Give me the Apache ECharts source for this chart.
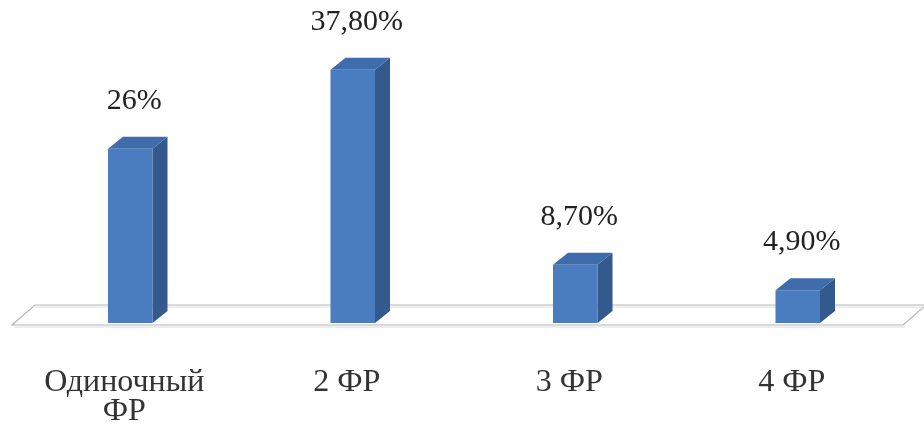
<!DOCTYPE html>
<html>
<head>
<meta charset="utf-8">
<script src="https://cdn.jsdelivr.net/npm/echarts@6/dist/echarts.min.js"></script>
<style>html,body{margin:0;padding:0;background:#fff}#c{width:924px;height:432px}</style>
</head>
<body>
<div id="c"></div>
<script>
const categories = ['Одиночный\nФР', '2 ФР', '3 ФР', '4 ФР'];
const values = [26, 37.8, 8.7, 4.9];
const valueLabels = ['26%', '37,80%', '8,70%', '4,90%'];

const chart = echarts.init(document.getElementById('c'));
const FRONT = '#4a7dc0', SIDE = '#34598c', TOP = '#3f6cab';
const DX = 15, DY = -12;

chart.setOption({
  animation: false,
  grid: { left: 19, right: 15, top: 55, bottom: 109 },
  xAxis: {
    type: 'category',
    data: categories,
    axisLine: { show: false },
    axisTick: { show: false },
    axisLabel: {
      fontFamily: 'Liberation Serif', fontSize: 32, color: '#333',
      lineHeight: 29, margin: 45, padding: [0, 12, 0, 0]
    }
  },
  yAxis: { type: 'value', min: 0, max: 40, show: false, splitLine: { show: false } },
  series: [
    {
      type: 'custom', z: 1, silent: true,
      data: [[0, 0]],
      renderItem: function (params, api) {
        const cs = params.coordSys;
        const fy = cs.y + cs.height + 2;
        const lx = cs.x - 7, rx = cs.x + cs.width - 6;
        const bdx = 23, bdy = -20;
        return {
          type: 'group',
          children: [
            { type: 'polygon', shape: { points: [[lx, fy], [rx, fy], [rx + bdx, fy + bdy], [lx + bdx, fy + bdy]] },
              style: { fill: '#fff', stroke: '#b5b5b5', lineWidth: 1.2 } },
            { type: 'polyline', shape: { points: [[lx + 2, fy + 2], [rx + 2, fy + 2]] },
              style: { fill: null, stroke: '#dcdcdc', lineWidth: 1 } },
            { type: 'polyline', shape: { points: [[lx + bdx, fy + bdy + 2], [rx + bdx + 10, fy + bdy + 2]] },
              style: { fill: null, stroke: '#dcdcdc', lineWidth: 1 } }
          ]
        };
      }
    },
    {
      type: 'custom', z: 2,
      data: values.map((v, i) => [i, v]),
      renderItem: function (params, api) {
        const i = api.value(0), v = api.value(1);
        const base = api.coord([i, 0]);
        const top = api.coord([i, v]);
        const w = api.size([1, 0])[0] * 0.2;
        const x0 = base[0] - w / 2, x1 = base[0] + w / 2;
        const yb = base[1], yt = top[1];
        return {
          type: 'group',
          children: [
            { type: 'polygon', shape: { points: [[x1, yt], [x1 + DX, yt + DY], [x1 + DX, yb + DY], [x1, yb]] },
              style: { fill: SIDE } },
            { type: 'polygon', shape: { points: [[x0, yt], [x0 + DX, yt + DY], [x1 + DX, yt + DY], [x1, yt]] },
              style: { fill: TOP } },
            { type: 'rect', shape: { x: x0, y: yt, width: w, height: yb - yt },
              style: { fill: FRONT } },
            { type: 'text', x: base[0] + 4, y: yt - 48,
              style: { text: valueLabels[params.dataIndex], fontFamily: 'Liberation Serif', fontSize: 30,
                fill: '#222', align: 'center', verticalAlign: 'middle' } }
          ]
        };
      }
    }
  ]
});
</script>
</body>
</html>
